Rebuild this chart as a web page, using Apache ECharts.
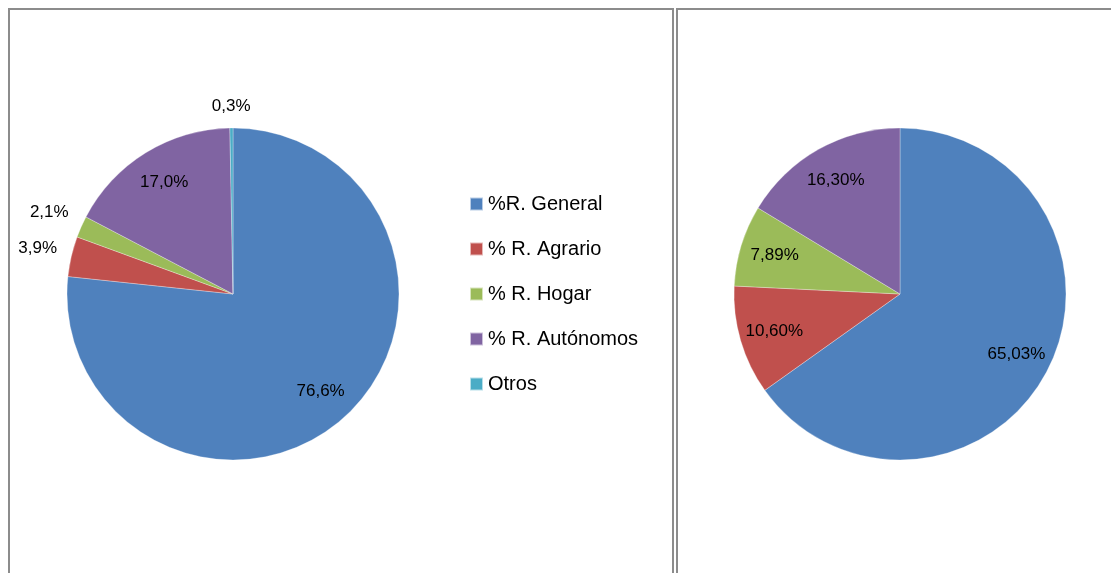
<!DOCTYPE html>
<html>
<head>
<meta charset="utf-8">
<script src="https://cdn.jsdelivr.net/npm/echarts@6/dist/echarts.min.js"></script>
<style>
  html, body { margin: 0; padding: 0; background: #fff; }
  #main { width: 1111px; height: 573px; }
</style>
</head>
<body>
<div id="main"></div>
<script>
var categories = ['%R. General', '% R. Agrario', '% R. Hogar', '% R. Autónomos', 'Otros'];
var leftValues = [76.6, 3.9, 2.1, 17.0, 0.3];
var rightCategories = ['%R. General', '% R. Agrario', '% R. Hogar', '% R. Autónomos'];
var rightValues = [65.03, 10.60, 7.89, 16.30];
var colors = ['#4F81BD', '#C0504D', '#9BBB59', '#8064A2', '#4BACC6'];

var myChart = echarts.init(document.getElementById('main'));

function fmt(v, d) {
    return v.toFixed(d).replace('.', ',') + '%';
}

var labelFont = { fontFamily: 'Liberation Sans, Arial, sans-serif', fontSize: 17, color: '#000' };

// the coloured slices, no labels
function basePie(center, names, values) {
    return {
        type: 'pie',
        center: center,
        radius: 166,
        startAngle: 90,
        clockwise: true,
        silent: true,
        itemStyle: { borderColor: 'rgba(255,255,255,0.6)', borderWidth: 0.5 },
        label: { show: false },
        labelLine: { show: false },
        data: values.map(function (v, i) {
            return { name: names[i], value: v, itemStyle: { color: colors[i] } };
        })
    };
}

// transparent ring only used to place labels (inner ring / outer ring)
// outer labels get pulled toward the pie when they sit above/below it,
// like excel does with a text box touching the circle
function labelRing(center, radius, names, values, decimals, test, outer) {
    var total = values.reduce(function (a, b) { return a + b; }, 0);
    var acc = 0;
    return {
        type: 'pie',
        center: center,
        radius: radius,
        startAngle: 90,
        clockwise: true,
        silent: true,
        itemStyle: { color: 'rgba(0,0,0,0)' },
        label: Object.assign({
            show: true,
            position: 'inside',
            formatter: function (p) { return test(p.value) ? fmt(p.value, decimals) : ''; }
        }, labelFont),
        labelLine: { show: false },
        data: values.map(function (v, i) {
            var mid = (acc + v / 2) / total * Math.PI * 2;
            acc += v;
            var item = { name: names[i], value: v };
            if (outer) {
                var sx = Math.sin(mid), cy = -Math.cos(mid);
                var want = 176 + Math.abs(sx) * 20 + Math.abs(cy) * 9;
                var d = want - (radius[0] + radius[1]) / 2;
                item.label = { offset: [sx * d, cy * d] };
            }
            return item;
        })
    };
}

function big(v) { return v >= 10; }
function small(v) { return v < 10; }
function all() { return true; }

myChart.setOption({
    backgroundColor: '#fff',
    animation: false,
    graphic: [
        { type: 'rect', shape: { x: 9, y: 9, width: 664, height: 600 },
          style: { fill: 'none', stroke: '#8c8c8c', lineWidth: 2 } },
        { type: 'rect', shape: { x: 677, y: 9, width: 460, height: 600 },
          style: { fill: 'none', stroke: '#8c8c8c', lineWidth: 2 } }
    ],
    legend: {
        orient: 'vertical',
        left: 469,
        top: 193,
        padding: 0,
        icon: 'rect',
        itemWidth: 13,
        itemHeight: 13,
        itemGap: 23,
        selectedMode: false,
        textStyle: { fontFamily: 'Liberation Sans, Arial, sans-serif', fontSize: 20, color: '#000', lineHeight: 22 },
        data: categories.map(function (c, i) { return { name: c, itemStyle: { color: colors[i] } }; })
    },
    series: [
        basePie([233, 294], categories, leftValues),
        labelRing([233, 294], [90, 166], categories, leftValues, 1, big, false),
        labelRing([233, 294], [166, 224], categories, leftValues, 1, small, true),
        basePie([900, 294], rightCategories, rightValues),
        labelRing([900, 294], [90, 166], rightCategories, rightValues, 2, all, false)
    ]
});
</script>
</body>
</html>
